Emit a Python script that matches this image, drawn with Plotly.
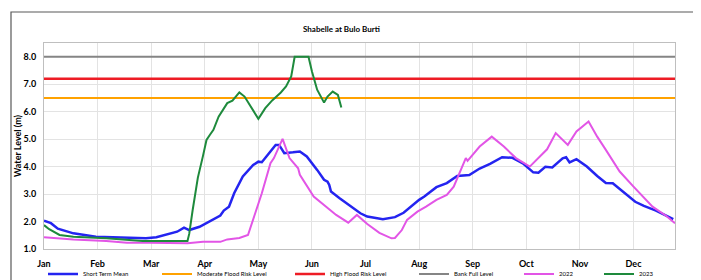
import plotly.graph_objects as go

# Day index (0 = 1 Jan) on a 365-day axis; month ticks every 31 days as in the source chart
month_labels = ["Jan", "Feb", "Mar", "Apr", "May", "Jun", "Jul", "Aug", "Sep", "Oct", "Nov", "Dec"]
month_ticks = [0, 31, 62, 93, 124, 155, 186, 217, 248, 279, 310, 341]

bank_full_level = 8.0
high_flood_level = 7.2
moderate_flood_level = 6.5

mean_days = [0, 4, 8, 17, 30, 42, 54, 59, 65, 71, 77, 81, 84, 90, 96, 102, 104, 107, 110, 115,
             121, 124, 126, 130, 134, 136, 139, 144, 148, 152, 156, 158, 162, 164, 165, 166, 171,
             175, 183, 187, 196, 203, 208, 217, 220, 227, 233, 239, 246, 252, 258, 265, 271, 277,
             283, 286, 290, 294, 300, 302, 304, 308, 314, 320, 325, 329, 337, 342, 347, 354, 364]
mean_vals = [2.03, 1.94, 1.74, 1.57, 1.45, 1.43, 1.39, 1.39, 1.43, 1.54, 1.63, 1.78, 1.69, 1.81,
             2.00, 2.22, 2.40, 2.54, 3.03, 3.64, 4.06, 4.18, 4.16, 4.49, 4.79, 4.79, 4.49, 4.52,
             4.55, 4.37, 4.06, 3.88, 3.52, 3.45, 3.33, 3.09, 2.85, 2.67, 2.30, 2.18, 2.08, 2.16,
             2.32, 2.79, 2.91, 3.25, 3.40, 3.66, 3.69, 3.93, 4.10, 4.34, 4.32, 4.12, 3.79, 3.78,
             3.99, 3.97, 4.30, 4.34, 4.15, 4.27, 4.00, 3.66, 3.40, 3.39, 2.97, 2.72, 2.57, 2.40, 2.09]

y2022_days = [0, 17, 36, 48, 61, 83, 92, 102, 106, 113, 118, 121, 126, 131, 133, 138, 142, 147,
              148, 156, 163, 167, 169, 176, 181, 187, 194, 201, 203, 207, 210, 216, 221, 227, 233,
              237, 241, 244, 245, 248, 252, 259, 266, 273, 281, 291, 296, 303, 308, 315, 320, 325,
              333, 341, 347, 352, 360, 365]
y2022_vals = [1.43, 1.35, 1.29, 1.23, 1.23, 1.21, 1.26, 1.26, 1.35, 1.40, 1.51, 2.06, 3.03, 4.12,
              4.31, 5.01, 4.31, 3.94, 3.70, 2.91, 2.54, 2.36, 2.24, 1.96, 2.24, 1.91, 1.59, 1.39,
              1.40, 1.69, 2.06, 2.36, 2.54, 2.79, 2.97, 3.27, 3.88, 4.31, 4.21, 4.43, 4.73, 5.09,
              4.73, 4.31, 4.00, 4.63, 5.22, 4.79, 5.28, 5.64, 5.09, 4.61, 3.82, 3.27, 2.85, 2.54,
              2.20, 1.94]

y2023_days = [0, 3, 9, 17, 36, 50, 57, 83, 84, 86, 87, 89, 92, 94, 96, 98, 101, 106, 109, 113,
              116, 119, 124, 128, 132, 137, 140, 143, 145, 153, 155, 158, 162, 164, 167, 170, 172]
y2023_vals = [1.87, 1.72, 1.51, 1.45, 1.39, 1.33, 1.29, 1.29, 1.55, 2.42, 2.79, 3.60, 4.40, 4.97,
              5.16, 5.34, 5.82, 6.31, 6.40, 6.70, 6.55, 6.25, 5.74, 6.13, 6.41, 6.70, 6.92, 7.28,
              8.00, 8.00, 7.46, 6.80, 6.33, 6.55, 6.73, 6.61, 6.15]

full_days = [0, 365]

FONT = "Lato"
fig = go.Figure()

fig.add_trace(go.Scatter(x=mean_days, y=mean_vals, mode="lines", name="Short Term Mean",
                         legendwidth=69, line=dict(color="#2424F0", width=2.5)))
fig.add_trace(go.Scatter(x=full_days, y=[moderate_flood_level] * 2, mode="lines",
                         name="Moderate Flood Risk Level", legendwidth=88,
                         line=dict(color="#FFA200", width=2)))
fig.add_trace(go.Scatter(x=full_days, y=[high_flood_level] * 2, mode="lines",
                         name="High Flood Risk Level", legendwidth=79,
                         line=dict(color="#EE1C25", width=2.5)))
fig.add_trace(go.Scatter(x=full_days, y=[bank_full_level] * 2, mode="lines",
                         name="Bank Full Level", legendwidth=60,
                         line=dict(color="#858585", width=2)))
fig.add_trace(go.Scatter(x=y2022_days, y=y2022_vals, mode="lines", name="2022",
                         legendwidth=35, line=dict(color="#E255E6", width=2)))
fig.add_trace(go.Scatter(x=y2023_days, y=y2023_vals, mode="lines", name="2023",
                         legendwidth=20, line=dict(color="#1E8A3C", width=2)))

# The page body adds an 8 px offset; lay out in page pixels and convert.
OFF = 8
W, H = 701 - OFF, 280 - OFF
PL, PR, PT, PB = 44, 675, 43, 249          # plot area in page pixels
L, R, T, B = PL - OFF, W - (PR - OFF), PT - OFF, H - (PB - OFF)
pw, ph = W - L - R, H - T - B

def px_x(p):
    return (p - OFF - L) / pw

def px_y(p):
    return (H - B - (p - OFF)) / ph

fig.update_layout(
    width=W, height=H,
    margin=dict(l=L, r=R, t=T, b=B, autoexpand=False),
    paper_bgcolor="white", plot_bgcolor="white",
    font=dict(family=FONT, color="#000000"),
    showlegend=True,
    legend=dict(orientation="h", xref="paper", yref="paper",
                x=px_x(43), xanchor="left", y=px_y(274), yanchor="middle",
                font=dict(size=6, family=FONT), itemwidth=30, tracegroupgap=0,
                bgcolor="rgba(0,0,0,0)"),
    annotations=[
        dict(text="<b>Shabelle at Bulo Burti</b>", xref="paper", yref="paper",
             x=px_x(341), y=px_y(29), xanchor="center", yanchor="middle",
             showarrow=False, font=dict(size=8, family=FONT)),
    ],
    shapes=[
        dict(type="rect", xref="paper", yref="paper", x0=px_x(11), x1=px_x(720),
             y0=px_y(300), y1=px_y(12), line=dict(color="#595959", width=1.2),
             fillcolor="rgba(0,0,0,0)", layer="below"),
    ],
)

fig.update_xaxes(range=[0, 365], tickmode="array", tickvals=month_ticks,
                 ticktext=["<b>%s</b>" % m for m in month_labels],
                 showgrid=True, gridcolor="#E3E3E3", gridwidth=1,
                 showline=True, linecolor="#BFBFBF", linewidth=1, mirror=True,
                 ticks="", zeroline=False, tickfont=dict(size=9, family=FONT),
                 ticklabelstandoff=6)
fig.update_yaxes(range=[1.0, 8.5], tickmode="array", tickvals=[1, 2, 3, 4, 5, 6, 7, 8],
                 ticktext=["<b>%.1f</b>" % v for v in [1, 2, 3, 4, 5, 6, 7, 8]],
                 showgrid=True, gridcolor="#E3E3E3", gridwidth=1,
                 showline=True, linecolor="#BFBFBF", linewidth=1, mirror=True,
                 ticks="", zeroline=False, tickfont=dict(size=9, family=FONT),
                 ticklabelstandoff=5,
                 title=dict(text="<b>Water Level (m)</b>", font=dict(size=9, family=FONT),
                            standoff=0))

fig.write_html("out.html")
